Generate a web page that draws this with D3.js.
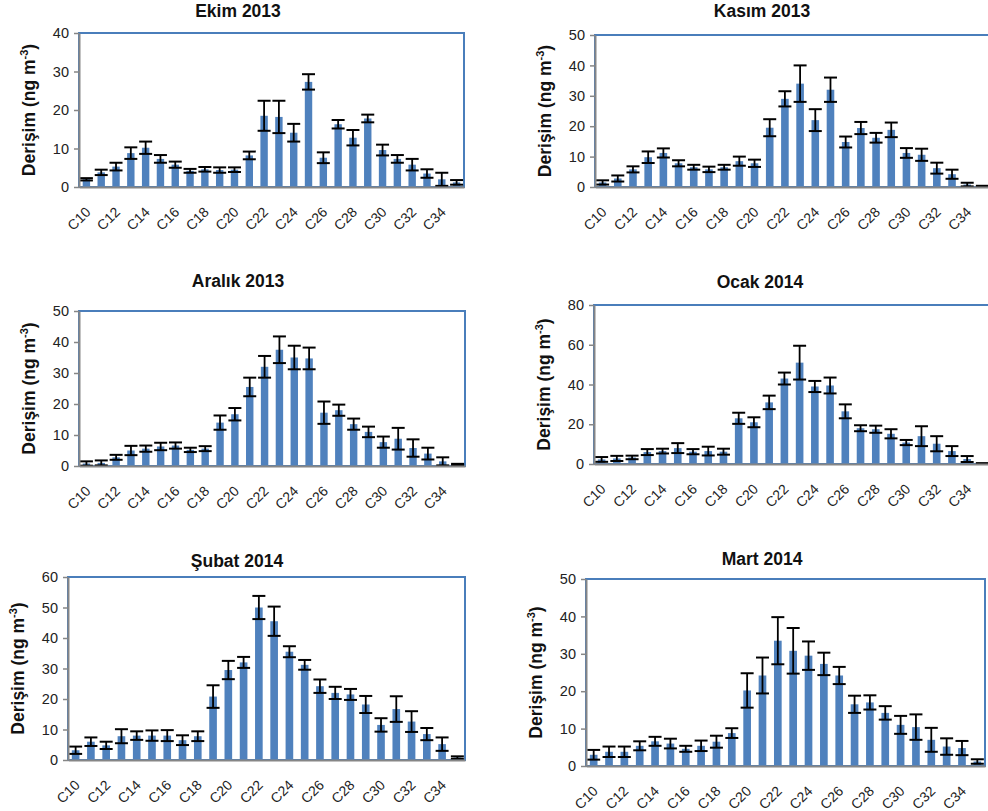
<!DOCTYPE html>
<html><head><meta charset="utf-8">
<script src="https://cdn.jsdelivr.net/npm/d3@7"></script>
<style>body{margin:0;background:#fff;overflow:hidden} svg{display:block}</style>
</head><body><svg id="c" width="988" height="811"></svg>
<script>
const categories = ["C10","C11","C12","C13","C14","C15","C16","C17","C18","C19","C20","C21","C22","C23","C24","C25","C26","C27","C28","C29","C30","C31","C32","C33","C34","C35"];
const xTickLabels = ["C10","C12","C14","C16","C18","C20","C22","C24","C26","C28","C30","C32","C34"];
const titles = ["Ekim 2013","Kasım 2013","Aralık 2013","Ocak 2014","Şubat 2014","Mart 2014"];
const yMaxes = [40,50,50,80,60,50];
const ySteps = [10,10,10,20,10,10];

const ekimMean = [2.0,3.8,5.3,8.8,10.2,7.3,5.8,4.2,4.6,4.4,4.5,8.2,18.5,18.2,14.1,27.3,7.6,16.3,12.8,17.8,9.6,7.3,5.8,3.5,2.0,1.2];
const ekimErr  = [0.3,0.7,1.0,1.5,1.6,1.0,0.8,0.5,0.6,0.7,0.6,1.0,3.9,4.2,2.3,2.0,1.4,1.1,2.0,1.0,1.4,1.0,1.5,1.1,1.7,0.6];
const kasimMean = [1.5,2.8,5.8,9.8,11.2,7.8,6.5,5.8,6.5,8.5,7.8,19.5,29.0,34.0,22.0,32.0,14.8,19.4,16.2,18.8,11.2,10.6,6.2,4.2,0.8,0.3];
const kasimErr  = [0.7,1.0,1.0,1.9,1.5,1.0,0.8,0.9,0.8,1.5,1.2,2.8,2.5,6.0,3.6,4.0,1.8,2.0,1.6,2.4,1.6,2.0,1.8,1.5,0.6,0.1];
const aralikMean = [0.8,1.0,2.8,5.0,5.6,6.3,6.6,5.2,5.6,14.0,16.7,25.5,32.0,37.5,35.0,34.7,17.2,18.0,13.5,11.0,7.7,8.8,5.8,4.0,1.5,0.5];
const aralikErr  = [0.7,0.8,0.8,1.5,1.0,1.2,1.0,0.7,0.8,2.3,2.0,3.0,3.5,4.3,3.8,3.5,3.6,1.8,1.8,1.7,1.8,3.5,2.8,1.9,1.3,0.2];
const ocakMean = [2.3,2.8,3.3,6.0,6.5,8.0,6.2,6.5,6.2,23.0,21.0,31.0,43.0,51.0,39.0,39.5,26.5,18.0,17.5,15.2,10.8,14.0,10.2,6.5,2.5,0.3];
const ocakErr  = [1.2,1.3,0.9,1.5,1.2,2.5,1.3,2.2,1.5,2.8,2.5,3.4,3.0,8.5,2.8,4.0,3.5,1.5,1.8,2.3,1.3,5.0,3.8,2.5,1.5,0.1];
const subatMean = [3.2,6.0,4.8,7.8,8.0,8.0,8.0,6.5,7.8,20.8,29.5,32.0,50.0,45.5,35.5,31.2,24.2,22.0,21.5,18.2,11.5,16.7,12.6,8.5,5.2,0.8];
const subatErr  = [1.2,1.4,1.2,2.3,1.4,1.7,1.8,1.6,1.6,3.7,3.0,1.8,3.8,4.8,1.8,1.6,2.2,2.0,1.8,2.8,2.2,4.2,3.4,2.0,2.2,0.4];
const martMean = [3.0,3.8,3.8,5.4,6.6,6.0,4.6,5.4,6.5,8.8,20.2,24.2,33.5,30.8,29.5,27.3,24.2,16.5,17.0,14.2,11.0,10.4,7.0,5.2,4.8,1.2];
const martErr  = [1.3,1.4,1.4,1.2,1.2,1.3,0.8,1.4,1.6,1.3,4.6,4.8,6.3,6.1,3.8,3.0,2.3,2.3,1.9,1.8,2.4,3.4,3.2,2.2,1.9,0.6];

const seriesMeans = [ekimMean,kasimMean,aralikMean,ocakMean,subatMean,martMean];
const seriesErrs  = [ekimErr,kasimErr,aralikErr,ocakErr,subatErr,martErr];

const layout = [
  {l:79, r:464, t:33, b:187, tx:238, ty:17},
  {l:595, r:990, t:35, b:187, tx:762, ty:17},
  {l:79, r:465, t:311, b:466, tx:238, ty:287},
  {l:594, r:990, t:305, b:464, tx:760, ty:288},
  {l:68, r:465, t:577, b:760, tx:237, ty:567},
  {l:586, r:985, t:579, b:766, tx:762, ty:565}
];

const FONT = "'Liberation Sans', Arial, sans-serif";
const svg = d3.select("#c");

layout.forEach((L, i) => {
  const means = seriesMeans[i], errs = seriesErrs[i];
  const x = d3.scaleBand().domain(categories).range([L.l, L.r]).paddingInner(0.5).paddingOuter(0.25);
  const y = d3.scaleLinear().domain([0, yMaxes[i]]).range([L.b, L.t]);
  const g = svg.append("g");

  g.append("rect").attr("x", L.l).attr("y", L.t).attr("width", L.r - L.l).attr("height", L.b - L.t)
    .attr("fill", "none").attr("stroke", "#4a7ebb").attr("stroke-width", 2);

  g.selectAll("rect.bar").data(categories).enter().append("rect").attr("class","bar")
    .attr("x", d => x(d)).attr("width", x.bandwidth())
    .attr("y", (d, k) => y(means[k])).attr("height", (d, k) => L.b - y(means[k]))
    .attr("fill", "#4f81bd");

  const cap = 6.5;
  const eb = g.selectAll("g.eb").data(categories).enter().append("g").attr("class","eb");
  eb.append("line").attr("x1", d => x(d) + x.bandwidth()/2).attr("x2", d => x(d) + x.bandwidth()/2)
    .attr("y1", (d,k) => y(means[k] + errs[k])).attr("y2", (d,k) => y(Math.max(0, means[k] - errs[k])))
    .attr("stroke", "#000").attr("stroke-width", 1.8);
  [1, -1].forEach(s => {
    eb.append("line").attr("x1", d => x(d) + x.bandwidth()/2 - cap).attr("x2", d => x(d) + x.bandwidth()/2 + cap)
      .attr("y1", (d,k) => y(Math.max(0, means[k] + s*errs[k]))).attr("y2", (d,k) => y(Math.max(0, means[k] + s*errs[k])))
      .attr("stroke", "#000").attr("stroke-width", 2);
  });

  const ya = g.append("g").attr("transform", `translate(${L.l},0)`)
    .call(d3.axisLeft(y).tickValues(d3.range(0, yMaxes[i] + 0.1, ySteps[i])).tickSize(5).tickSizeOuter(0).tickPadding(5));
  ya.select(".domain").attr("stroke", "#868686").attr("stroke-width", 2);
  ya.selectAll(".tick line").attr("stroke", "#868686").attr("stroke-width", 1.5);
  ya.selectAll(".tick text").attr("font-family", FONT).attr("font-size", 14.5).attr("fill", "#222");

  const xa = g.append("g").attr("transform", `translate(0,${L.b})`)
    .call(d3.axisBottom(x).tickValues(xTickLabels).tickSize(0).tickSizeOuter(0));
  xa.select(".domain").attr("stroke", "#868686").attr("stroke-width", 2);
  xa.selectAll(".tick text").attr("font-family", FONT).attr("font-size", 14).attr("fill", "#222")
    .attr("text-anchor", "end").attr("dy", null).attr("y", 0)
    .attr("transform", "translate(5,26) rotate(-45)");

  g.append("text").attr("x", L.tx).attr("y", L.ty).attr("text-anchor", "middle")
    .attr("font-family", FONT).attr("font-weight", "bold").attr("font-size", 17.5).attr("fill", "#111")
    .text(titles[i]);

  const yl = g.append("text").attr("transform", `translate(${L.l - 44.5},${(L.t + L.b)/2}) rotate(-90)`)
    .attr("text-anchor", "middle").attr("font-family", FONT).attr("font-weight", "bold").attr("font-size", 17.5).attr("fill", "#111");
  yl.append("tspan").text("Derişim (ng m");
  yl.append("tspan").attr("font-size", 11).attr("dy", -7).text("-3");
  yl.append("tspan").attr("dy", 7).text(")");
});
</script>
</body></html>
